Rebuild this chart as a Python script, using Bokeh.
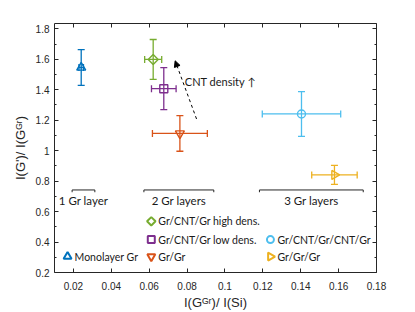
import math
from bokeh.plotting import figure
from bokeh.models import (Range1d, LinearAxis, FixedTicker, Whisker, ColumnDataSource,
                          TeeHead, Arrow, NormalHead, CustomJSTickFormatter)
from bokeh.embed import file_html
from bokeh.resources import INLINE
from bokeh.core.properties import value

# ---------------- data ----------------
series = ["Monolayer Gr", "Gr/CNT/Gr high dens.", "Gr/CNT/Gr low dens.",
          "Gr/Gr", "Gr/CNT/Gr/CNT/Gr", "Gr/Gr/Gr"]
x_vals = [0.0241, 0.0621, 0.0677, 0.0762, 0.1404, 0.1578]
y_vals = [1.546, 1.599, 1.407, 1.113, 1.241, 0.841]
x_err = [0.0012, 0.0045, 0.0065, 0.0145, 0.0207, 0.0120]
y_err = [0.117, 0.131, 0.138, 0.117, 0.147, 0.063]
colors = ["#0072BD", "#77AC30", "#7E2F8E", "#D95319", "#4DBEEE", "#EDB120"]
markers = ["triangle", "square", "square", "inverted_triangle", "circle", "triangle"]
marker_angle = [0, math.pi / 4, 0, 0, 0, -math.pi / 2]
marker_size = [9, 7, 8, 9, 8, 9]

# legend layout (in-plot legend, 3 columns)
leg_x = [0.0169, 0.0611, 0.0611, 0.0611, 0.1240, 0.1240]
leg_y = [0.305, 0.536, 0.416, 0.305, 0.416, 0.305]
leg_size = [8, 6, 7, 8, 7, 8]

# layer group brackets
group_labels = ["1 Gr layer", "2 Gr layers", "3 Gr layers"]
group_x0 = [0.0193, 0.0572, 0.1182]
group_x1 = [0.0313, 0.0941, 0.1730]
group_y = 0.742
group_label_y = 0.672

x_ticks = [0.02, 0.04, 0.06, 0.08, 0.1, 0.12, 0.14, 0.16, 0.18]
y_ticks = [0.2, 0.4, 0.6, 0.8, 1.0, 1.2, 1.4, 1.6, 1.8]
y_minor = [0.3, 0.5, 0.7, 0.9, 1.1, 1.3, 1.5, 1.7]

AX = "#262626"
TICK_FONT = "Liberation Sans"
TXT_FONT = "Lato"

p = figure(width=415, height=312, x_range=Range1d(0.01, 0.18), y_range=Range1d(0.2, 1.835),
           output_backend="svg", toolbar_location=None,
           min_border_left=54, min_border_right=39, min_border_top=23, min_border_bottom=39)
p.grid.visible = False
p.outline_line_color = None

fmt = CustomJSTickFormatter(code="return Number(tick.toFixed(3)).toString();")

def style_axis(ax, ticks, minor=None, labels=True):
    ax.ticker = FixedTicker(ticks=ticks, minor_ticks=minor or [])
    ax.formatter = fmt
    ax.axis_line_color = AX
    ax.axis_line_width = 1
    ax.major_tick_line_color = AX
    ax.minor_tick_line_color = AX
    ax.major_tick_in = 4
    ax.major_tick_out = 0
    ax.minor_tick_in = 2
    ax.minor_tick_out = 0
    ax.major_label_text_font = TICK_FONT
    ax.major_label_text_font_size = "10px"
    if labels:
        ax.major_label_text_color = AX
    else:
        ax.major_label_text_color = None
        ax.major_label_text_alpha = 0
        ax.major_label_standoff = 0

style_axis(p.xaxis[0], x_ticks)
style_axis(p.yaxis[0], y_ticks, y_minor)
p.xaxis[0].major_label_standoff = 9
p.yaxis[0].major_label_standoff = 5

p.xaxis[0].axis_label = "I(Gᴳʳ)/ I(Si)"
p.yaxis[0].axis_label = "I(G')/ I(Gᴳʳ)"
for ax in (p.xaxis[0], p.yaxis[0]):
    ax.axis_label_text_font = TICK_FONT
    ax.axis_label_text_font_size = "13px"
    ax.axis_label_text_font_style = "normal"
    ax.axis_label_text_color = AX
p.xaxis[0].axis_label_standoff = 2
p.yaxis[0].axis_label_standoff = 5

top = LinearAxis()
style_axis(top, x_ticks, labels=False)
p.add_layout(top, "above")
right = LinearAxis()
style_axis(right, y_ticks, y_minor, labels=False)
p.add_layout(right, "right")

# ---------------- error bars and markers ----------------
for i in range(len(series)):
    src = ColumnDataSource(dict(x=[x_vals[i]], y=[y_vals[i]],
                                yl=[y_vals[i] - y_err[i]], yu=[y_vals[i] + y_err[i]],
                                xl=[x_vals[i] - x_err[i]], xu=[x_vals[i] + x_err[i]]))
    c = colors[i]
    wv = Whisker(source=src, base="x", lower="yl", upper="yu", dimension="height",
                 line_color=c, line_width=1.3,
                 lower_head=TeeHead(size=7, line_color=c, line_width=1.3),
                 upper_head=TeeHead(size=7, line_color=c, line_width=1.3))
    wh = Whisker(source=src, base="y", lower="xl", upper="xu", dimension="width",
                 line_color=c, line_width=1.3,
                 lower_head=TeeHead(size=7, line_color=c, line_width=1.3),
                 upper_head=TeeHead(size=7, line_color=c, line_width=1.3))
    p.add_layout(wv)
    p.add_layout(wh)
    p.scatter(x="x", y="y", source=src, marker=markers[i], size=marker_size[i],
              angle=marker_angle[i], fill_color=None, line_color=c, line_width=1.4)
    # legend entry
    p.scatter(x=[leg_x[i]], y=[leg_y[i]], marker=markers[i], size=leg_size[i],
              angle=marker_angle[i], fill_color=None, line_color=c, line_width=2)
    p.text(x=[leg_x[i]], y=[leg_y[i]], text=[series[i]], x_offset=7,
           text_font=value(TXT_FONT), text_font_size="10.5px", text_color="#1a1a1a",
           text_baseline="middle", text_align="left")

# ---------------- brackets ----------------
bx, by = [], []
for x0, x1 in zip(group_x0, group_x1):
    bx.append([x0, x0, x1, x1])
    by.append([group_y - 0.015, group_y, group_y, group_y - 0.015])
p.multi_line(xs=bx, ys=by, line_color=AX, line_width=1)
p.text(x=[(a + b) / 2 for a, b in zip(group_x0, group_x1)], y=[group_label_y] * 3,
       text=group_labels, text_font=value(TXT_FONT), text_font_size="11.5px",
       text_color="#1a1a1a", text_align="center", text_baseline="middle")

# ---------------- CNT density arrow ----------------
p.add_layout(Arrow(x_start=0.0850, y_start=1.208, x_end=0.0737, y_end=1.59,
                   line_color="black", line_width=1, line_dash="3 3",
                   end=NormalHead(size=6, fill_color="black", line_color="black")))
p.text(x=[0.0788], y=[1.452], text=["CNT density ↑"], text_font=value(TXT_FONT),
       text_font_size="11px", text_color="#1a1a1a", text_baseline="middle")

open("out.html", "w").write(file_html(p, INLINE))
